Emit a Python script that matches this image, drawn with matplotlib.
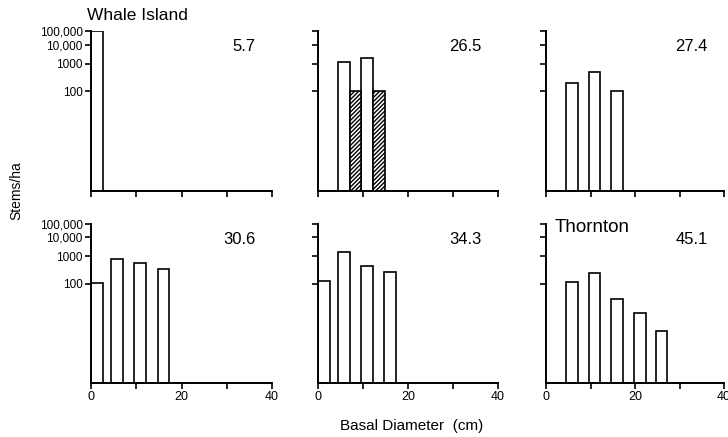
import numpy as np
import matplotlib
matplotlib.use("Agg")
import matplotlib.pyplot as plt

plt.rcParams['font.family'] = ['Liberation Sans', 'DejaVu Sans']
plt.rcParams['hatch.linewidth'] = 1.0

# diameter class centres (cm) and stems/ha
class_mid = [1.3, 5.8, 10.9, 16.0, 21.1, 26.0]
stand_ages = ["5.7", "26.5", "27.4", "30.6", "34.3", "45.1"]
stems = [
    [100000, 0, 0, 0, 0, 0],
    [0, 1200, 2000, 0, 0, 0],
    [0, 190, 500, 100, 0, 0],
    [105, 800, 550, 330, 0, 0],
    [130, 1600, 450, 270, 0, 0],
    [0, 110, 245, 48, 26, 11],
]
# dead stems (hatched) in the 26.5 stand
dead_mid = [8.3, 13.5]
dead_stems = [100, 100]

y_ticks = [100, 1000, 10000, 100000]
y_ticklabels = ["100", "1000", "10,000", "100,000"]

# the original axis is compressed at the top, roughly piecewise in log10
_logs = [0, 2, 3, 4, 5]
_pos = [0, 100, 127.5, 146.5, 160]


def fwd(v):
    v = np.clip(np.asarray(v, dtype=float), 1, None)
    return np.interp(np.log10(v), _logs, _pos)


def inv(p):
    return 10 ** np.interp(np.asarray(p, dtype=float), _pos, _logs)


fig = plt.figure(figsize=(7.28, 4.37), dpi=100)

lefts = [91, 318, 546]
widths = [181, 180, 178]
bottoms = [191, 383]
heights = [160, 159]

for i in range(6):
    row, col = divmod(i, 3)
    ax = fig.add_axes([lefts[col] / 728, 1 - bottoms[row] / 437,
                       widths[col] / 728, heights[row] / 437])
    ax.set_yscale('function', functions=(fwd, inv))
    ax.set_xlim(0, 40)
    ax.set_ylim(1, 100000)

    vals = np.array(stems[i], dtype=float)
    keep = vals > 0
    ax.bar(np.array(class_mid)[keep], vals[keep] - 1, bottom=1, width=2.6,
           facecolor='white', edgecolor='black', linewidth=1.2, zorder=2)
    if stand_ages[i] == "26.5":
        ax.bar(dead_mid, np.array(dead_stems) - 1, bottom=1, width=2.6,
               facecolor='white', edgecolor='black', linewidth=1.2,
               hatch='////////', zorder=3)

    for s in ['top', 'right']:
        ax.spines[s].set_visible(False)
    for s in ['left', 'bottom']:
        ax.spines[s].set_linewidth(1.4)

    ax.set_xticks([0, 10, 20, 30, 40])
    if row == 1:
        ax.set_xticklabels(["0", "", "20", "", "40"])
    else:
        ax.set_xticklabels([])
    ax.set_yticks(y_ticks)
    ax.yaxis.set_minor_locator(matplotlib.ticker.NullLocator())
    if col == 0:
        ax.set_yticklabels(y_ticklabels)
    else:
        ax.set_yticklabels([])
    ax.tick_params(axis='both', direction='out', length=4, width=1.2,
                   labelsize=9, pad=2)
    ax.tick_params(axis='y', labelsize=8.5)

    ax.text(0.91, 0.905, stand_ages[i], transform=ax.transAxes,
            ha='right', va='center', fontsize=12)

fig.text(87 / 728, 1 - 15 / 437, "Whale Island", fontsize=12.5,
         ha='left', va='center')
fig.text(555 / 728, 1 - 227 / 437, "Thornton", fontsize=13.5,
         ha='left', va='center')
fig.text(16 / 728, 1 - 191 / 437, "Stems/ha", rotation=90, fontsize=10,
         ha='center', va='center')
fig.text(412 / 728, 1 - 426 / 437, "Basal Diameter  (cm)", fontsize=11,
         ha='center', va='center')

fig.savefig("out.png", dpi=100)
